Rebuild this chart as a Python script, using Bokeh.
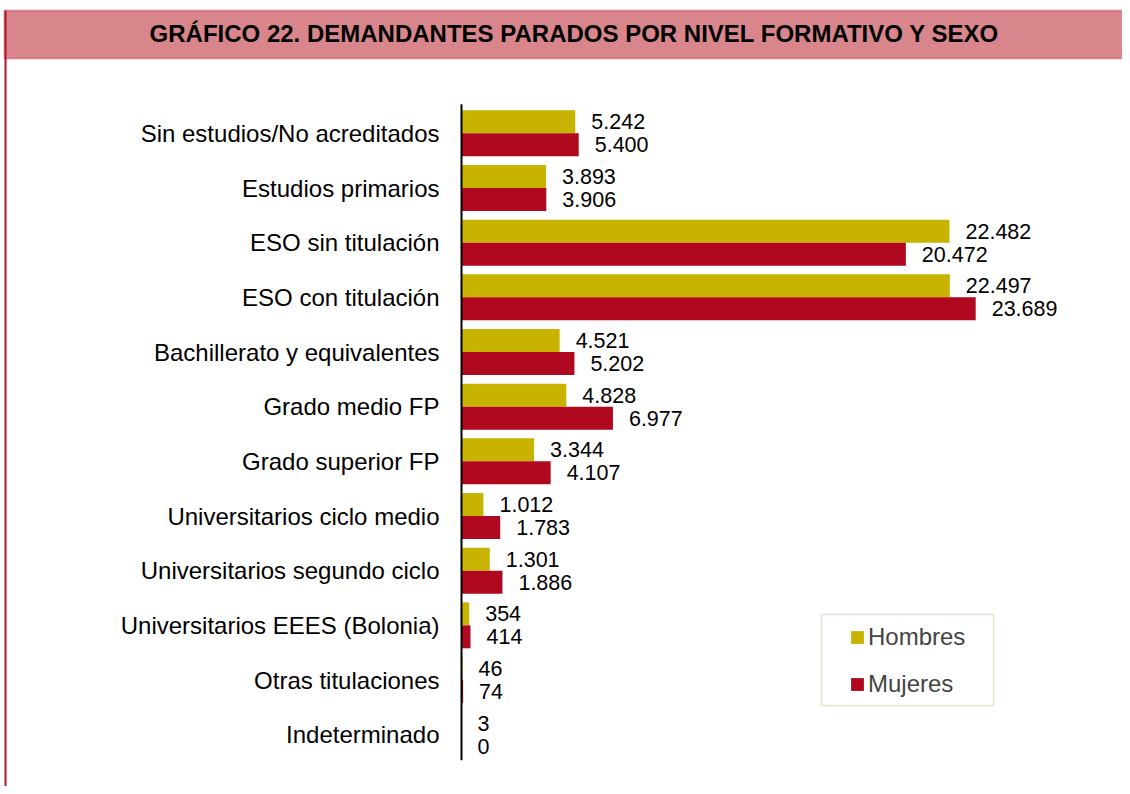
from bokeh.plotting import figure
from bokeh.models import ColumnDataSource, Range1d, BoxAnnotation, Label, Legend, LegendItem
from bokeh.transform import dodge
from bokeh.core.properties import value
from bokeh.embed import file_html
from bokeh.resources import INLINE

categories = ["Sin estudios/No acreditados", "Estudios primarios", "ESO sin titulación",
              "ESO con titulación", "Bachillerato y equivalentes", "Grado medio FP",
              "Grado superior FP", "Universitarios ciclo medio", "Universitarios segundo ciclo",
              "Universitarios EEES (Bolonia)", "Otras titulaciones", "Indeterminado"]
hombres = [5242, 3893, 22482, 22497, 4521, 4828, 3344, 1012, 1301, 354, 46, 3]
mujeres = [5400, 3906, 20472, 23689, 5202, 6977, 4107, 1783, 1886, 414, 74, 0]
series_names = ["Hombres", "Mujeres"]
title_text = "GRÁFICO 22. DEMANDANTES PARADOS POR NIVEL FORMATIVO Y SEXO"

FONT = "Liberation Sans"
C_H = "#C8B400"
C_M = "#B0081E"
RED = "#B5122B"
PINK = "#D9858C"

def fmt(v):
    return f"{v:,}".replace(",", ".")

n = len(categories)
idx = list(range(n))
src = ColumnDataSource(dict(
    idx=idx, base=[0] * n, cat=categories, h=hombres, m=mujeres,
    h_lab=[fmt(v) for v in hombres], m_lab=[fmt(v) for v in mujeres],
))

W, H = 1122, 786
# plot geometry: value 0 at x=461px, 0.021706 px per unit; categories span y 105.5..761.5 px
px_per_unit = 0.021706
x0_px = 461
top_px, bot_px = 105.5, 761.5
band = (bot_px - top_px) / n
x_range = Range1d(-x0_px / px_per_unit, (W - x0_px) / px_per_unit)
y_range = Range1d(start=(H - top_px) / band - 0.5, end=-top_px / band - 0.5)

p = figure(width=W, height=H, output_backend="svg", toolbar_location=None,
           x_range=x_range, y_range=y_range, x_axis_location=None, y_axis_location=None,
           min_border=0)
p.outline_line_color = None
p.xgrid.visible = False
p.ygrid.visible = False
p.background_fill_color = "white"
p.border_fill_color = "white"

# title bar and page border (screen units, measured from bottom-left)
p.add_layout(BoxAnnotation(left=4, right=W + 4, bottom=H - 58, top=H - 10,
                           left_units="screen", right_units="screen", top_units="screen", bottom_units="screen",
                           fill_color=PINK, fill_alpha=1, line_color=RED, line_width=2, level="underlay"))
p.add_layout(BoxAnnotation(left=4, right=6, bottom=-4, top=H - 10,
                           left_units="screen", right_units="screen", top_units="screen", bottom_units="screen",
                           fill_color=RED, fill_alpha=1, line_color=None, level="underlay"))
p.add_layout(Label(x=574, y=H - 33, x_units="screen", y_units="screen", text=title_text,
                   text_font=FONT, text_font_size="24px", text_font_style="bold",
                   text_align="center", text_baseline="middle", text_color="black"))

bh = 0.42
rh = p.hbar(y=dodge("idx", -0.21), right="h", left="base", height=bh, source=src,
            fill_color=C_H, line_color=None)
rm = p.hbar(y=dodge("idx", 0.21), right="m", left="base", height=bh, source=src,
            fill_color=C_M, line_color=None)

# axis line
p.segment(x0=[0], x1=[0], y0=[-0.53], y1=[n - 0.53], line_color="black", line_width=2)

# category labels
p.text(x="base", y="idx", text="cat", source=src, x_offset=-22,
       text_font=value(FONT), text_font_size="24px", text_align="right",
       text_baseline="middle", text_color="black")

# value labels
p.text(x="h", y=dodge("idx", -0.21), text="h_lab", source=src, x_offset=16,
       text_font=value(FONT), text_font_size="21.5px", text_baseline="middle", text_color="black")
p.text(x="m", y=dodge("idx", 0.21), text="m_lab", source=src, x_offset=16,
       text_font=value(FONT), text_font_size="21.5px", text_baseline="middle", text_color="black")

# legend frame
p.add_layout(BoxAnnotation(left=821, right=993, bottom=H - 705, top=H - 614,
                           left_units="screen", right_units="screen", top_units="screen", bottom_units="screen",
                           fill_color="white", fill_alpha=1, line_color="#B0A060", line_width=1.5))

legend = Legend(items=[LegendItem(label=series_names[0], renderers=[rh]),
                       LegendItem(label=series_names[1], renderers=[rm])],
                location=(849, H - 698), padding=0, margin=0, spacing=19,
                glyph_width=16, glyph_height=16, label_standoff=3,
                label_text_font=FONT, label_text_font_size="24px",
                border_line_color=None, background_fill_alpha=0)
p.add_layout(legend, "center")

open("out.html", "w").write(file_html(p, INLINE))
